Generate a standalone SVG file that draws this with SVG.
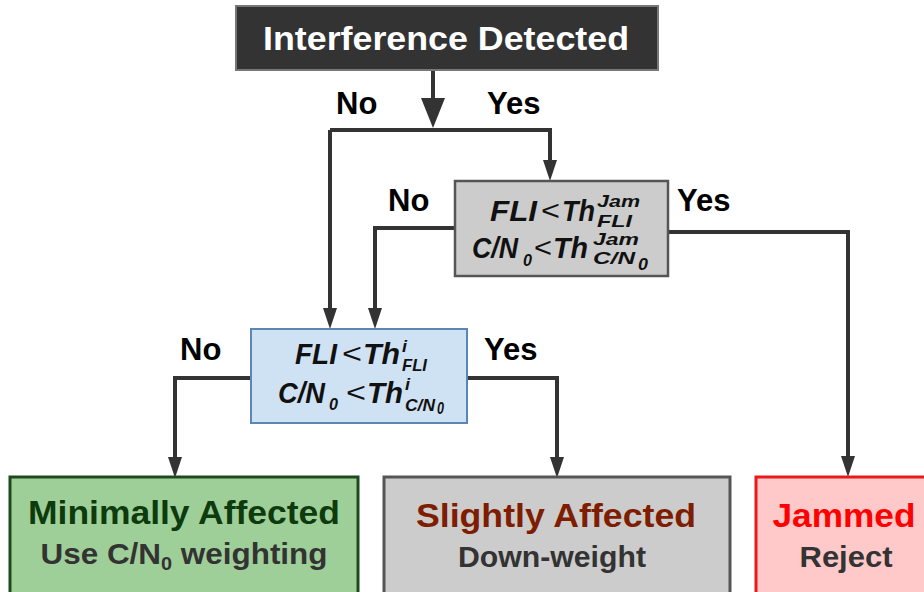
<svg xmlns="http://www.w3.org/2000/svg" width="924" height="592" viewBox="0 0 924 592">
  <style>
    text { font-family: "Liberation Sans", Arial, sans-serif; font-weight: bold; }
    .lbl { font-size: 31px; fill: #000; }
    .m { font-style: italic; font-size: 29px; fill: #111; }
    .ms { font-style: italic; font-size: 17px; fill: #111; }
    .lt { font-weight: normal; font-size: 28px; fill: #111; }
    .sub { fill: #333; font-size: 30px; }
    .wire { fill: none; stroke: #333; stroke-width: 4; }
  </style>
  <defs>
    <marker id="ah" viewBox="0 0 21 14" refX="0" refY="7" markerWidth="21" markerHeight="14" markerUnits="userSpaceOnUse" orient="auto">
      <path d="M0,0 L21,7 L0,14 Z" fill="#333"/>
    </marker>
    <marker id="ahBig" viewBox="0 0 30 24" refX="0" refY="12" markerWidth="30" markerHeight="24" markerUnits="userSpaceOnUse" orient="auto">
      <path d="M0,0 L30,12 L0,24 Z" fill="#333"/>
    </marker>
  </defs>

  <rect width="924" height="592" fill="#fff"/>

  <!-- connectors -->
  <g id="connectors">
    <path class="wire" d="M433,70 V98" marker-end="url(#ahBig)"/>
    <path class="wire" d="M330,130 H550 V160" marker-end="url(#ah)"/>
    <path class="wire" d="M330,130 V308" marker-end="url(#ah)"/>
    <path class="wire" d="M455,228 H375 V308" marker-end="url(#ah)"/>
    <path class="wire" d="M668,232 H848 V456" marker-end="url(#ah)"/>
    <path class="wire" d="M251,378 H175 V457" marker-end="url(#ah)"/>
    <path class="wire" d="M467,378 H557 V457" marker-end="url(#ah)"/>
    <text class="lbl" x="336" y="114">No</text>
    <text class="lbl" x="487" y="114">Yes</text>
    <text class="lbl" x="388" y="211">No</text>
    <text class="lbl" x="677" y="211">Yes</text>
    <text class="lbl" x="180" y="360">No</text>
    <text class="lbl" x="484" y="360">Yes</text>
  </g>

  <!-- start -->
  <g id="interference-detected">
    <rect x="236" y="6" width="422" height="64" fill="#333" stroke="#777" stroke-width="2"/>
    <text x="446" y="50" font-size="34" fill="#fff" text-anchor="middle" textLength="366" lengthAdjust="spacingAndGlyphs">Interference Detected</text>
  </g>

  <!-- jamming threshold test -->
  <g id="jam-test">
    <rect x="455" y="181" width="213" height="95" fill="#ccc" stroke="#555" stroke-width="2.5"/>
    <text class="m" x="490" y="221" textLength="47" lengthAdjust="spacingAndGlyphs">FLI</text>
    <text class="lt" x="541" y="220" textLength="19" lengthAdjust="spacingAndGlyphs">&lt;</text>
    <text class="m" x="562" y="221" textLength="33" lengthAdjust="spacingAndGlyphs">Th</text>
    <text class="ms" x="597" y="207" textLength="43" lengthAdjust="spacingAndGlyphs">Jam</text>
    <text class="ms" x="597" y="227" font-size="16" textLength="35" lengthAdjust="spacingAndGlyphs">FLI</text>
    <text class="m" x="472" y="258" textLength="46" lengthAdjust="spacingAndGlyphs">C/N</text>
    <text class="ms" x="523" y="266" font-size="19" textLength="9" lengthAdjust="spacingAndGlyphs">0</text>
    <text class="lt" x="534" y="257" textLength="18" lengthAdjust="spacingAndGlyphs">&lt;</text>
    <text class="m" x="553" y="258" textLength="35" lengthAdjust="spacingAndGlyphs">Th</text>
    <text class="ms" x="593" y="245" font-size="16" textLength="46" lengthAdjust="spacingAndGlyphs">Jam</text>
    <text class="ms" x="593" y="264" font-size="15" textLength="42" lengthAdjust="spacingAndGlyphs">C/N</text>
    <text class="ms" x="638" y="270" font-size="11" textLength="10" lengthAdjust="spacingAndGlyphs">0</text>
  </g>

  <!-- interference threshold test -->
  <g id="interference-test">
    <rect x="251" y="329" width="216" height="94" fill="#cfe2f3" stroke="#5b87b5" stroke-width="2"/>
    <text class="m" x="295" y="364" textLength="42" lengthAdjust="spacingAndGlyphs">FLI</text>
    <text class="lt" x="342" y="363" textLength="20" lengthAdjust="spacingAndGlyphs">&lt;</text>
    <text class="m" x="363" y="364" textLength="37" lengthAdjust="spacingAndGlyphs">Th</text>
    <text class="ms" x="402" y="352" textLength="5" lengthAdjust="spacingAndGlyphs">i</text>
    <text class="ms" x="402" y="371" font-size="16" textLength="25" lengthAdjust="spacingAndGlyphs">FLI</text>
    <text class="m" x="278" y="403" textLength="47" lengthAdjust="spacingAndGlyphs">C/N</text>
    <text class="ms" x="329" y="410" font-size="19" textLength="9" lengthAdjust="spacingAndGlyphs">0</text>
    <text class="lt" x="346" y="402" textLength="20" lengthAdjust="spacingAndGlyphs">&lt;</text>
    <text class="m" x="367" y="403" textLength="36" lengthAdjust="spacingAndGlyphs">Th</text>
    <text class="ms" x="405" y="390" textLength="5" lengthAdjust="spacingAndGlyphs">i</text>
    <text class="ms" x="405" y="411" font-size="14" textLength="30" lengthAdjust="spacingAndGlyphs">C/N</text>
    <text class="ms" x="437" y="414" font-size="10" textLength="7" lengthAdjust="spacingAndGlyphs">0</text>
  </g>

  <!-- outcomes -->
  <g id="minimally-affected">
    <rect x="10" y="477" width="348" height="130" fill="#9fcf98" stroke="#1f4a1f" stroke-width="3"/>
    <text x="184" y="524" font-size="34" fill="#0d3b0d" text-anchor="middle" textLength="312" lengthAdjust="spacingAndGlyphs">Minimally Affected</text>
    <text class="sub" x="184" y="564" text-anchor="middle" textLength="287" lengthAdjust="spacingAndGlyphs">Use C/N<tspan font-size="19" dy="6">0</tspan><tspan dy="-6"> weighting</tspan></text>
  </g>

  <g id="slightly-affected">
    <rect x="384" y="477" width="346" height="130" fill="#ccc" stroke="#555" stroke-width="3"/>
    <text x="556" y="527" font-size="34" fill="#7f1d00" text-anchor="middle" textLength="280" lengthAdjust="spacingAndGlyphs">Slightly Affected</text>
    <text class="sub" x="552" y="567" text-anchor="middle" textLength="188" lengthAdjust="spacingAndGlyphs">Down-weight</text>
  </g>

  <g id="jammed">
    <rect x="756" y="477" width="180" height="130" fill="#ffc9c9" stroke="#e8191a" stroke-width="3"/>
    <text x="844" y="527" font-size="34" fill="#ff0000" text-anchor="middle" textLength="143" lengthAdjust="spacingAndGlyphs">Jammed</text>
    <text class="sub" x="846" y="567" text-anchor="middle" textLength="93" lengthAdjust="spacingAndGlyphs">Reject</text>
  </g>
</svg>
